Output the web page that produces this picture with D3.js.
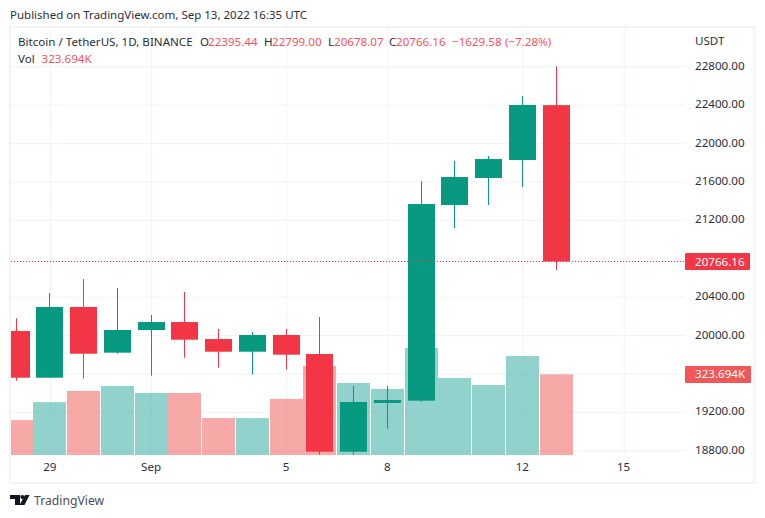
<!DOCTYPE html>
<html>
<head>
<meta charset="utf-8">
<script src="https://d3js.org/d3.v7.min.js"></script>
<style>
  html, body { margin: 0; padding: 0; background: #fff; }
  svg { display: block; }
  text { font-family: "Noto Sans", sans-serif; font-size: 11.6px; fill: #2a2e39; }
  .axis .domain { display: none; }
  .axis line { stroke: #f0f3fa; stroke-width: 1; }
  .axis text { fill: #2a2e39; font-size: 11.6px; font-family: "Noto Sans", sans-serif; }
</style>
</head>
<body>
<svg id="chart" width="765" height="518"></svg>
<script>
var svg = d3.select("#chart");

var UP = "#089981", DOWN = "#f23645";
var UP_VOL = "#26a69a", DOWN_VOL = "#ef5350";

// o, h, l, c, vol in thousands
var data = [
  ["2022-08-28", 20043, 20175, 19525, 19556, 140],
  ["2022-08-29", 19556, 20439, 19556, 20293, 212],
  ["2022-08-30", 20293, 20584, 19546, 19806, 257],
  ["2022-08-31", 19817, 20491, 19806, 20053, 277],
  ["2022-09-01", 20053, 20209, 19577, 20136, 249],
  ["2022-09-02", 20136, 20449, 19765, 19952, 249],
  ["2022-09-03", 19959, 20064, 19660, 19827, 148],
  ["2022-09-04", 19827, 20032, 19588, 20001, 148],
  ["2022-09-05", 20001, 20064, 19640, 19796, 225],
  ["2022-09-06", 19803, 20189, 18754, 18785, 357],
  ["2022-09-07", 18785, 19470, 18754, 19303, 289],
  ["2022-09-08", 19293, 19470, 19025, 19324, 265],
  ["2022-09-09", 19317, 21605, 19306, 21366, 429],
  ["2022-09-10", 21355, 21814, 21116, 21647, 309],
  ["2022-09-11", 21636, 21866, 21355, 21834, 281],
  ["2022-09-12", 21824, 22491, 21543, 22397, 397],
  ["2022-09-13", 22395.44, 22799, 20678.07, 20766.16, 323.694]
].map(function(d) {
  return { date: new Date(d[0] + "T00:00:00Z"), o: d[1], h: d[2], l: d[3], c: d[4], vol: d[5] };
});

var plot = { left: 11, right: 685, top: 28, bottom: 455 };

var x = d3.scaleUtc()
  .domain([new Date("2022-08-28T00:00:00Z"), new Date("2022-09-15T00:00:00Z")])
  .range([16.15, 623.65]);
var y = d3.scaleLinear().domain([18800, 22800]).range([450.3, 66.3]);
var v = d3.scaleLinear().domain([0, 323.694]).range([455, 374.3]);

// snaps to the pixel grid so bodies and wicks stay sharp
function cx(d) { return Math.floor(x(d.date)) + 0.5; }

// frame
svg.append("rect")
  .attr("x", 10).attr("y", 27).attr("width", 744.5).attr("height", 456)
  .attr("fill", "none").attr("stroke", "#f0f3fa").attr("stroke-width", 2);

svg.append("clipPath").attr("id", "plotclip").append("rect")
  .attr("x", plot.left).attr("y", plot.top)
  .attr("width", plot.right - plot.left).attr("height", plot.bottom - plot.top);

// grid and tick labels come from the axes
var priceTicks = d3.range(18800, 22801, 400);
var yAxis = d3.axisRight(y)
  .tickValues(priceTicks)
  .tickSize(plot.right - plot.left)
  .tickPadding(10)
  .tickFormat(function(d) { return (d == 20800 || d == 19600) ? "" : d3.format(".2f")(d); });

svg.append("g")
  .attr("class", "axis axis--y")
  .attr("transform", "translate(" + plot.left + ",0)")
  .call(yAxis)
  .selectAll("text")
  .attr("dy", "0.26em");

var dayTicks = ["2022-08-29", "2022-09-01", "2022-09-05", "2022-09-08", "2022-09-12", "2022-09-15"]
  .map(function(s) { return new Date(s + "T00:00:00Z"); });
var xAxis = d3.axisBottom(x)
  .tickValues(dayTicks)
  .tickSize(plot.bottom - plot.top)
  .tickPadding(8)
  .tickFormat(function(d) { return d.getUTCDate() == 1 ? "Sep" : d.getUTCDate(); });

svg.append("g")
  .attr("class", "axis axis--x")
  .attr("transform", "translate(0," + plot.top + ")")
  .call(xAxis)
  .selectAll("text")
  .attr("dx", "-0.6");

var g = svg.append("g").attr("clip-path", "url(#plotclip)");

g.selectAll(".vol")
  .data(data)
  .enter().append("rect")
  .attr("class", "vol")
  .attr("x", function(d) { return cx(d) - 16.5; })
  .attr("y", function(d) { return v(d.vol); })
  .attr("width", 33)
  .attr("height", function(d) { return v(0) - v(d.vol); })
  .attr("fill", function(d) { return d.c >= d.o ? UP_VOL : DOWN_VOL; })
  .attr("fill-opacity", 0.5);

g.selectAll(".wick")
  .data(data)
  .enter().append("rect")
  .attr("class", "wick")
  .attr("x", function(d) { return cx(d) - 0.5; })
  .attr("y", function(d) { return y(d.h); })
  .attr("width", 1)
  .attr("height", function(d) { return y(d.l) - y(d.h); })
  .attr("fill", function(d) { return d.c >= d.o ? UP : DOWN; });

g.selectAll(".body")
  .data(data)
  .enter().append("rect")
  .attr("class", "body")
  .attr("x", function(d) { return cx(d) - 13.5; })
  .attr("y", function(d) { return y(Math.max(d.o, d.c)); })
  .attr("width", 27)
  .attr("height", function(d) { return Math.abs(y(d.o) - y(d.c)); })
  .attr("fill", function(d) { return d.c >= d.o ? UP : DOWN; });

var last = data[data.length - 1];

// last price line and the two labels on the scale
svg.append("line")
  .attr("x1", plot.left).attr("x2", plot.right)
  .attr("y1", Math.floor(y(last.c)) + 0.5).attr("y2", Math.floor(y(last.c)) + 0.5)
  .attr("stroke", DOWN).attr("stroke-dasharray", "1 2");

function scaleLabel(yPos, color, label, w) {
  svg.append("rect")
    .attr("x", plot.right).attr("y", Math.floor(yPos) - 8)
    .attr("width", w).attr("height", 17).attr("rx", 1)
    .attr("fill", color);
  svg.append("text")
    .attr("x", 695).attr("y", yPos + 4)
    .style("fill", "#fff").text(label);
}
scaleLabel(y(last.c), DOWN, "20766.16", 65);
scaleLabel(v(last.vol), "#f15757", "323.694K", 66);

svg.append("text").attr("x", 695).attr("y", 45).text("USDT");

// header
svg.append("text").attr("id", "published").attr("x", 10).attr("y", 19).style("font-size", "11.5px").text("Published on TradingView.com, Sep 13, 2022 16:35 UTC");
svg.append("text").attr("x", 18).attr("y", 46).text("Bitcoin / TetherUS, 1D, BINANCE");
svg.append("text").attr("x", 18).attr("y", 63).text("Vol");
svg.append("text").attr("x", 41.5).attr("y", 63).style("fill", "#f7525f").text("323.694K");

var legend = [
  [200, "O", 0], [208, "22395.44", 1], [264, "H", 0], [272, "22799.00", 1],
  [328, "L", 0], [334, "20678.07", 1], [389, "C", 0], [396, "20766.16", 1],
  [452, "\u22121629.58", 1], [505, "(\u22127.28%)", 1]
];
svg.selectAll(".legend")
  .data(legend)
  .enter().append("text")
  .attr("class", "legend")
  .attr("x", function(d) { return d[0]; })
  .attr("y", 46)
  .style("fill", function(d) { return d[2] ? "#f7525f" : "#2a2e39"; })
  .text(function(d) { return d[1]; });

// logo
var logo = svg.append("g").attr("fill", "#131722");
logo.append("path").attr("d", "M10 495h10v10h-5v-6h-5z");
logo.append("circle").attr("cx", 22.3).attr("cy", 497).attr("r", 2);
logo.append("path").attr("d", "M25 495h4.5l-5 10h-5z");
svg.append("text").attr("x", 34).attr("y", 505).style("font-size", "12.2px").style("fill", "#4a4e59").text("TradingView");
</script>
</body>
</html>
